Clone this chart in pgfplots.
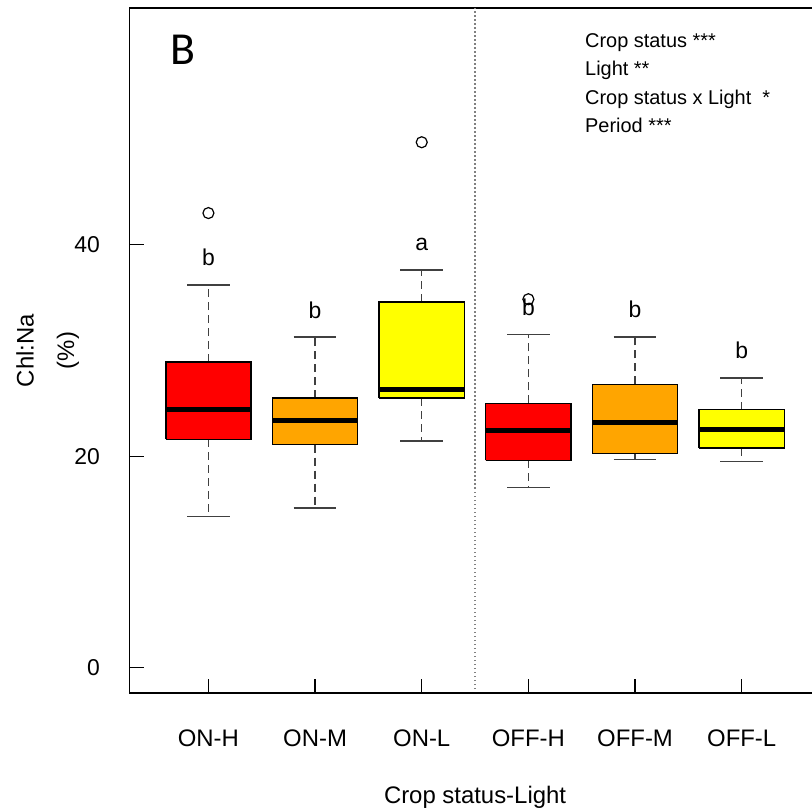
\documentclass[border=0pt]{standalone}
\usepackage{pgfplots}
\pgfplotsset{compat=1.18}
\usepackage{fontspec}
\setmainfont{Liberation Sans}
\newfontfamily\calib{Carlito}
\definecolor{rred}{HTML}{FF0000}
\definecolor{rorange}{HTML}{FFA500}
\definecolor{ryellow}{HTML}{FFFF00}
\definecolor{wgray}{HTML}{404040}
\newcommand{\fs}{\fontsize{24}{28}\selectfont}
\newcommand{\fy}{\fontsize{23}{27}\selectfont}
% \rbox{center}{lower whisker}{lower quartile}{median}{upper quartile}{upper whisker}{fill colour}
\newcommand{\rbox}[7]{%
  \pgfmathsetmacro\bL{#1-0.4}\pgfmathsetmacro\bR{#1+0.4}%
  \pgfmathsetmacro\cL{#1-0.2}\pgfmathsetmacro\cR{#1+0.2}%
  \edef\doit{%
    \noexpand\addplot[wgray, line width=1.4bp, dash pattern=on 8bp off 5bp] coordinates {(#1,#3) (#1,#2)};
    \noexpand\addplot[wgray, line width=1.4bp, dash pattern=on 8bp off 5bp] coordinates {(#1,#5) (#1,#6)};
    \noexpand\addplot[wgray, line width=1.6bp] coordinates {(\cL,#2) (\cR,#2)};
    \noexpand\addplot[wgray, line width=1.6bp] coordinates {(\cL,#6) (\cR,#6)};
    \noexpand\addplot[fill=#7, draw=black, line width=1.5bp, line join=miter] coordinates {(\bL,#3) (\bR,#3) (\bR,#5) (\bL,#5) (\bL,#3)};
    \noexpand\addplot[black, line width=5bp] coordinates {(\bL,#4) (\bR,#4)};
  }\doit
}
\begin{document}
\begin{tikzpicture}
\begin{axis}[name=ax, at={(0,0)}, anchor=south west,
  width=691.1bp, height=685bp, scale only axis,
  xmin=0.26, xmax=6.74, ymin=-2.4, ymax=62.4,
  xtick={1,2,3,4,5,6}, xticklabels={ON-H,ON-M,ON-L,OFF-H,OFF-M,OFF-L},
  ytick={0,20,40},
  tick pos=left, tick align=inside, major tick length=14bp,
  tick style={black, line width=1.2bp},
  axis line style={black, line width=1.3bp},
  xticklabel style={anchor=base, inner sep=0pt, yshift=-53bp, font=\fs},
  yticklabel style={anchor=east, inner sep=0pt, xshift=-29.5bp, font=\fy},
  /pgf/number format/assume math mode=true,
  clip=false,
]
\rbox{1}{14.3}{21.6}{24.4}{28.9}{36.2}{rred}
\rbox{2}{15.1}{21.1}{23.4}{25.5}{31.3}{rorange}
\rbox{3}{21.45}{25.5}{26.3}{34.6}{37.6}{ryellow}
\rbox{4}{17.05}{19.6}{22.45}{25.0}{31.5}{rred}
\rbox{5}{19.7}{20.25}{23.2}{26.8}{31.3}{rorange}
\rbox{6}{19.5}{20.8}{22.55}{24.4}{27.4}{ryellow}
% outliers
\addplot[only marks, mark=o, mark size=5.5bp, mark options={black, line width=1.2bp}]
  coordinates {(1,43.0) (3,49.7) (4,34.85)};
\draw[gray, line width=1.2bp, dash pattern=on 1.5bp off 2.5bp] (axis cs:3.5,-2.4) -- (axis cs:3.5,62.4);
\node[font=\fy] at (axis cs:1,38.8) {b};
\node[font=\fy] at (axis cs:2,33.8) {b};
\node[font=\fy] at (axis cs:3,40.0) {a};
\node[font=\fy] at (axis cs:4,34.1) {b};
\node[font=\fy] at (axis cs:5,33.9) {b};
\node[font=\fy] at (axis cs:6,30.0) {b};
\end{axis}
\draw[black, line width=2.2bp] (ax.south west) -- (ax.south east);
\node[rotate=90, font=\fs] at ([xshift=-104.5bp]ax.west) {Chl:Na};
\node[rotate=90, font=\fs] at ([xshift=-61.5bp]ax.west) {(\%)};
\node[anchor=base, inner sep=0pt, font=\fs] at ([yshift=-110bp]ax.south) {Crop status-Light};
\node[font=\calib\fontsize{46}{52}\selectfont] at ([xshift=53.5bp, yshift=-42bp]ax.north west) {B};
\node[anchor=base west, inner sep=0pt, font=\fontsize{20}{24}\selectfont] at ([xshift=455.5bp, yshift=-39.5bp]ax.north west) {Crop status ***};
\node[anchor=base west, inner sep=0pt, font=\fontsize{20}{24}\selectfont] at ([xshift=455.5bp, yshift=-68bp]ax.north west) {Light **};
\node[anchor=base west, inner sep=0pt, font=\fontsize{20}{24}\selectfont] at ([xshift=455.5bp, yshift=-96.5bp]ax.north west) {Crop status x Light\ \ *};
\node[anchor=base west, inner sep=0pt, font=\fontsize{20}{24}\selectfont] at ([xshift=455.5bp, yshift=-125bp]ax.north west) {Period ***};
\pgfresetboundingbox
\useasboundingbox (-129.5bp,-119bp) rectangle (682.5bp,693bp);
\end{tikzpicture}
\end{document}
